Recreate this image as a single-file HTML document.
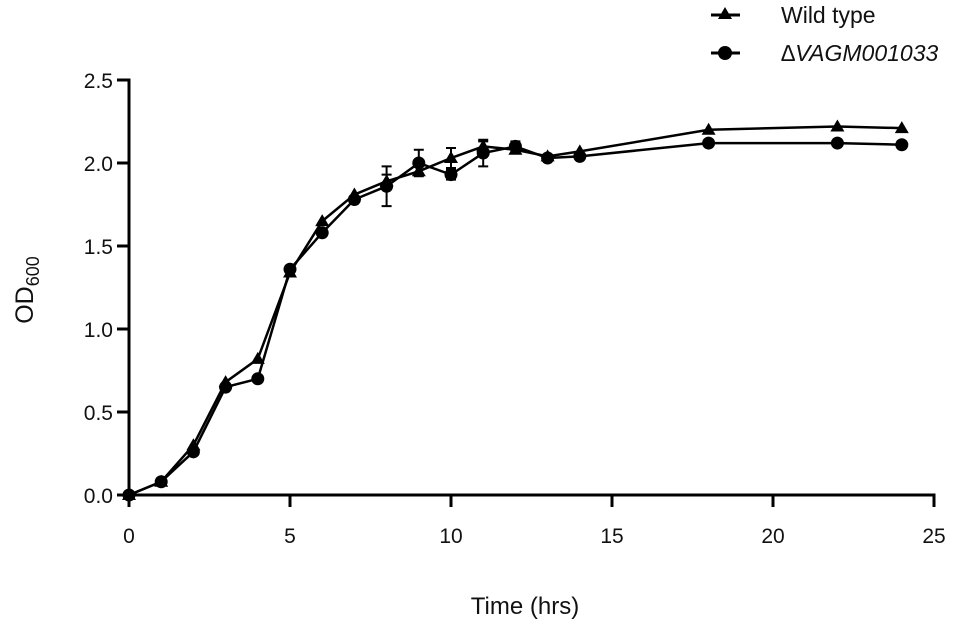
<!DOCTYPE html>
<html><head><meta charset="utf-8"><style>
body{margin:0;background:#fff}
svg text{font-family:"Liberation Sans",sans-serif;fill:#111}
</style></head><body>
<svg id="chart" width="955" height="627" xmlns="http://www.w3.org/2000/svg">
<g id="axes"></g><g id="series"></g>
<g>
<g>
<line x1="711" y1="15" x2="740" y2="15" stroke="#000" stroke-width="3"/>
<polygon points="725,7 732,19 718,19" fill="#000"/>
<text x="781" y="23" font-size="23">Wild  type</text></g>
<g>
<line x1="711" y1="53" x2="740" y2="53" stroke="#000" stroke-width="3"/>
<circle cx="725" cy="53" r="7" fill="#000"/>
<text x="781" y="61" font-size="23" font-style="italic">∆VAGM001033</text></g>
</g>
<text transform="translate(33,290) rotate(-90)" text-anchor="middle" font-size="25">OD<tspan font-size="18" dy="6">600</tspan></text>
<text x="525" y="614" text-anchor="middle" font-size="24">Time (hrs)</text>
</svg>
<script>
const times=[0,1,2,3,4,5,6,7,8,9,10,11,12,13,14,18,22,24];
const wildType=[0,0.08,0.30,0.68,0.82,1.34,1.65,1.81,1.89,1.95,2.03,2.10,2.08,2.04,2.07,2.20,2.22,2.21];
const wildErr=[0,0,0,0,0,0,0,0,0.04,0,0.06,0.03,0.02,0,0,0,0,0];
const mutant=[0,0.08,0.26,0.65,0.70,1.36,1.58,1.78,1.86,2.00,1.93,2.06,2.10,2.03,2.04,2.12,2.12,2.11];
const mutErr=[0,0,0,0,0,0,0,0,0.12,0.08,0.03,0.08,0.03,0,0,0,0,0];
const xTicks=[0,5,10,15,20,25];
const yTicks=[0,0.5,1.0,1.5,2.0,2.5];
const NS='http://www.w3.org/2000/svg';
const X=v=>129+v*32.2, Y=v=>495-v*166;
function mk(tag,attrs,parent){const e=document.createElementNS(NS,tag);for(const k in attrs)e.setAttribute(k,attrs[k]);parent.appendChild(e);return e;}
const axes=document.getElementById('axes'), ser=document.getElementById('series');
let a=mk('line',{x1:X(0),y1:Y(2.5)-1.5,x2:X(0),y2:Y(0)+1.5,stroke:'#000','stroke-width':3},axes);


a=mk('line',{x1:X(0)-1.5,y1:Y(0),x2:X(25)+1.5,y2:Y(0),stroke:'#000','stroke-width':3},axes);


xTicks.forEach(t=>{
 const l=mk('line',{x1:X(t),y1:Y(0),x2:X(t),y2:Y(0)+12,stroke:'#000','stroke-width':3},axes);
 
 
 const tx=mk('text',{x:X(t),y:Y(0)+48,'text-anchor':'middle','font-size':21},axes);tx.textContent=t;
 
 
});
yTicks.forEach(t=>{
 const l=mk('line',{x1:X(0)-12,y1:Y(t),x2:X(0),y2:Y(t),stroke:'#000','stroke-width':3},axes);
 
 
 const tx=mk('text',{x:X(0)-16,y:Y(t)+8,'text-anchor':'end','font-size':21},axes);tx.textContent=t.toFixed(1);
 
 
});
function drawSeries(vals,errs,shape,name){
 const g=mk('g',{},ser);
 
 
 mk('polyline',{points:times.map((t,i)=>X(t)+','+Y(vals[i])).join(' '),fill:'none',stroke:'#000','stroke-width':2.5},g);
 times.forEach((t,i)=>{
  if(errs[i]>0){
   const x=X(t),y1=Y(vals[i]+errs[i]),y2=Y(vals[i]-errs[i]);
   const eb=mk('path',{d:`M${x},${y1}V${y2}M${x-5},${y1}H${x+5}M${x-5},${y2}H${x+5}`,stroke:'#000','stroke-width':2,fill:'none'},g);
   
   
  }
  const x=X(t),y=Y(vals[i]);let m;
  if(shape==='tri') m=mk('polygon',{points:`${x},${y-7} ${x+7},${y+5} ${x-7},${y+5}`,fill:'#000'},g);
  else m=mk('circle',{cx:x,cy:y,r:6.5,fill:'#000'},g);
  
  
 });
}
drawSeries(wildType,wildErr,'tri','wild-type-series');
drawSeries(mutant,mutErr,'circ','mutant-series');
</script>
</body></html>
